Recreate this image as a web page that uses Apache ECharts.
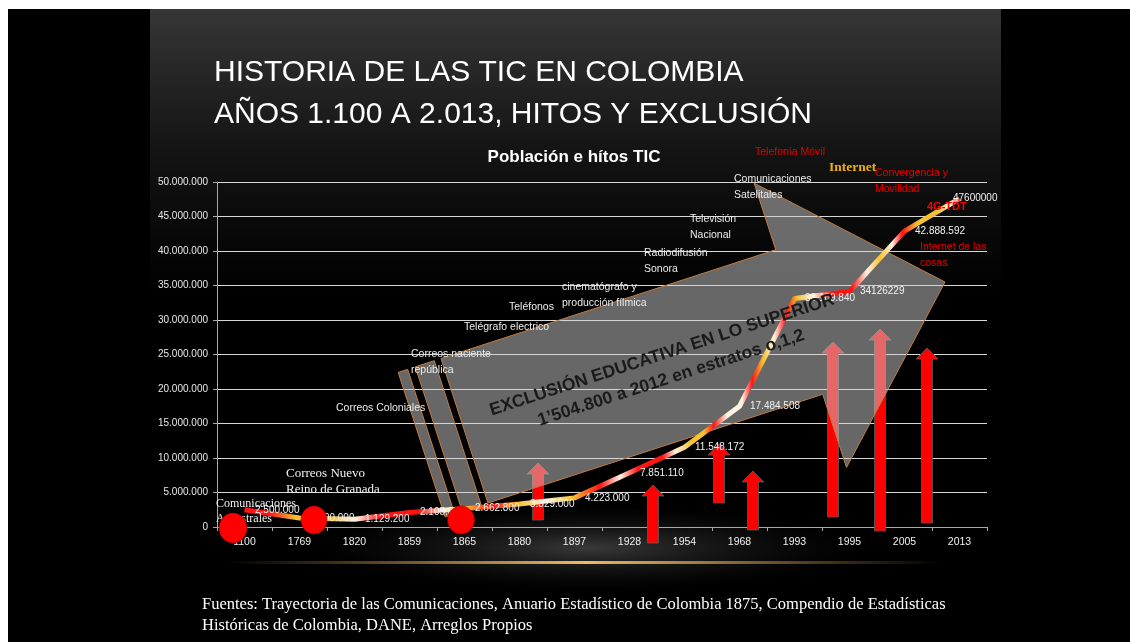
<!DOCTYPE html>
<html>
<head>
<meta charset="utf-8">
<script src="https://cdn.jsdelivr.net/npm/echarts@6/dist/echarts.min.js"></script>
<style>
html,body{margin:0;padding:0;background:#ffffff;}
#chart{width:1130px;height:642px;}
</style>
</head>
<body>
<div id="chart"></div>
<script>
// ---------------- DATA ----------------
const years = ['1100','1769','1820','1859','1865','1880','1897','1928','1954','1968','1993','1995','2005','2013'];
const population = [2500000,1300000,1129200,2105000,2662800,3329000,4223000,7851110,11548172,17484508,33109840,34126229,42888592,47600000];
const populationLabels = ['2.500.000','1.300.000','1.129.200','2.105.000','2.662.800','3.329.000','4.223.000','7.851.110','11.548.172','17.484.508','33.109.840','34126229','42.888.592','47600000'];
const yMin = 0, yMax = 50000000, yStep = 5000000;

const titleLines = ['HISTORIA DE LAS TIC EN COLOMBIA','AÑOS 1.100 A 2.013, HITOS Y EXCLUSIÓN'];
const chartTitle = 'Población e hítos TIC';
const exclusionText = ['EXCLUSIÓN EDUCATIVA EN LO SUPERIOR','1\u2019504.800 a 2012 en estratos o,1,2'];
const sourceText = ['Fuentes: Trayectoria de las Comunicaciones, Anuario Estadístico de Colombia 1875, Compendio de Estadísticas','Históricas de Colombia, DANE, Arreglos Propios'];

// milestone labels (hitos)
const milestonesWhite = ['Correos Coloniales','Correos naciente\nrepública','Telégrafo electrico','Teléfonos','cinematógrafo y\nproducción fílmica','Radiodifusión\nSonora','Televisión\nNacional','Comunicaciones\nSatelitales'];
const milestonesRed = ['Telefonía Móvil','Convergencia y\nMovilidad','Internet de las\ncosas'];
const milestonesSerif = ['Comunicaciones\nAncestrales','Correos Nuevo\nReino de Granada'];
const milestoneInternet = 'Internet';
const milestone4G = '4G-TDT';

// ---------------- LAYOUT (positions / styles) ----------------
const posWhite = [[336,408],[411,354],[464,327],[509,307],[562,287],[644,253],[690,219],[734,179]];
const posRed = [[755,152],[875,173],[920,247]];
const posSerif = [[216,504,12,15],[286,474,13,16]];
const redArrowsLayout = [[538,463,520],[653,485,543],[719,444,503],[753,471,530],[833,342,517],[880,329,531],[927,348,523]];

function fmt(v){ return String(v).replace(/\B(?=(\d{3})+(?!\d))/g,'.'); }

const SANS = '"Liberation Sans", Arial, sans-serif';
const SERIF = '"Liberation Serif", "Times New Roman", serif';

// line gradient stops (pixel x -> colour)
const R='#ff1414', Y='#f6c232', W='#fff3e2';
const stopPx = [[244,R],[272,R],[298,Y],[335,Y],[358,W],[382,R],[420,R],[445,W],[466,Y],[494,R],[520,Y],[546,W],[572,Y],[600,R],[620,W],[638,R],[662,R],[675,W],[690,Y],[703,Y],[713,R],[726,W],[741,W],[751,R],[762,Y],[773,W],[785,R],[796,Y],[812,W],[830,R],[850,R],[865,W],[878,Y],[890,W],[900,R],[915,Y],[935,Y],[948,W],[960,R]];
const x0=244.5, x1=959.5;
const colorStops = stopPx.map(s=>({offset:Math.min(1,Math.max(0,(s[0]-x0)/(x1-x0))), color:s[1]}));

// grey striped arrow geometry (local frame: tip, rotated 18deg)
const ang = 18*Math.PI/180;
const T=[945,282], dv=[-Math.cos(ang),Math.sin(ang)], nv=[Math.sin(ang),Math.cos(ang)];
function P(a,b){ return [T[0]+a*dv[0]+b*nv[0], T[1]+a*dv[1]+b*nv[1]]; }
const arrowMain = [P(0,0),P(151,-153),P(151,-83),P(503,-83),P(503,69),P(151,69),P(151,146)];
const stripe2 = [P(510,-83),P(530,-83),P(530,69),P(510,69)];
const stripe1 = [P(538,-83),P(548,-83),P(548,69),P(538,69)];
const greyFill = 'rgba(205,205,205,0.5)', greyStroke = '#c47a3c';

function redArrow(cx,tip,bottom){
  const sw=5.5, hw=11, hl=11;
  return {type:'polygon', z:1, shape:{points:[[cx-sw,bottom],[cx-sw,tip+hl],[cx-hw,tip+hl],[cx,tip],[cx+hw,tip+hl],[cx+sw,tip+hl],[cx+sw,bottom]]},
    style:{fill:'#ff0000', stroke:'#5a5a5a', lineWidth:0.8}};
}
function txt(x,y,text,font,fill,extra){
  return {type:'text', x:x, y:y, z:4, style:Object.assign({text:text, font:font, fill:fill, textAlign:'left', align:'left', textVerticalAlign:'middle', verticalAlign:'middle'}, extra||{})};
}

const graphics = [];
// backgrounds
graphics.push({type:'rect', z:-10, shape:{x:8,y:9,width:1122,height:633}, style:{fill:'#000'}});
graphics.push({type:'rect', z:-9, shape:{x:150,y:9,width:851,height:633}, style:{fill:{type:'linear',x:0,y:0,x2:0,y2:1,colorStops:[{offset:0,color:'#363636'},{offset:0.22,color:'#141414'},{offset:0.45,color:'#000'},{offset:1,color:'#000'}]}}});
graphics.push({type:'circle', z:-8, x:590, y:548, scaleX:6.5, scaleY:1, shape:{cx:0,cy:0,r:42}, style:{fill:{type:'radial',x:0.5,y:0.5,r:0.5,colorStops:[{offset:0,color:'rgba(115,115,115,0.5)'},{offset:0.6,color:'rgba(70,70,70,0.2)'},{offset:1,color:'rgba(40,40,40,0)'}]}}});
graphics.push({type:'rect', z:-7, shape:{x:225,y:561,width:720,height:3}, style:{fill:{type:'linear',x:0,y:0,x2:1,y2:0,colorStops:[{offset:0,color:'rgba(200,140,60,0)'},{offset:0.5,color:'rgba(240,185,100,1)'},{offset:1,color:'rgba(200,140,60,0)'}]}}});
// red arrows
redArrowsLayout.forEach(a=>graphics.push(redArrow(a[0],a[1],a[2])));
// grey striped arrow
[arrowMain,stripe2,stripe1].forEach(pts=>graphics.push({type:'polygon', z:1.5, shape:{points:pts}, style:{fill:greyFill, stroke:greyStroke, lineWidth:1}}));
// exclusion text
graphics.push({type:'text', x:662, y:355, rotation:ang, z:4, style:{text:exclusionText[0], font:'bold 17.5px '+SANS, fill:'#1a1a1a', textAlign:'center', align:'center', textVerticalAlign:'middle', verticalAlign:'middle'}});
graphics.push({type:'text', x:671, y:378, rotation:ang, z:4, style:{text:exclusionText[1], font:'bold 17.5px '+SANS, fill:'#1a1a1a', textAlign:'center', align:'center', textVerticalAlign:'middle', verticalAlign:'middle'}});
// titles
graphics.push(txt(214,73,titleLines[0],'30px '+SANS,'#ffffff'));
graphics.push(txt(214,115,titleLines[1],'30px '+SANS,'#ffffff'));
graphics.push(txt(574,157,chartTitle,'bold 17px '+SANS,'#ffffff',{textAlign:'center',align:'center'}));
// milestones
milestonesWhite.forEach((t,i)=>graphics.push(txt(posWhite[i][0],posWhite[i][1]-8,t,'10.5px '+SANS,'#ececec',{textVerticalAlign:'top',verticalAlign:'top',lineHeight:16})));
milestonesRed.forEach((t,i)=>graphics.push(txt(posRed[i][0],posRed[i][1]-8,t,'10.5px '+SANS,'#e60000',{textVerticalAlign:'top',verticalAlign:'top',lineHeight:16})));
milestonesSerif.forEach((t,i)=>graphics.push(txt(posSerif[i][0],posSerif[i][1]-posSerif[i][3]/2,t,posSerif[i][2]+'px '+SERIF,'#f2f2f2',{textVerticalAlign:'top',verticalAlign:'top',lineHeight:posSerif[i][3]})));
graphics.push(txt(829,168,milestoneInternet,'bold 13.5px '+SERIF,'#f2b000'));
graphics.push(txt(927,207,milestone4G,'bold 11px '+SANS,'#ff0000'));
// circles (hitos markers)
[[233,528,14,15],[314,520,13,14],[461,520,13.5,14]].forEach(c=>graphics.push({type:'ellipse', z:10, shape:{cx:c[0],cy:c[1],rx:c[2],ry:c[3]}, style:{fill:'#ff0000', stroke:'rgba(150,0,0,0.6)', lineWidth:1}}));
// footnote
graphics.push(txt(202,605,sourceText[0],'16.5px '+SERIF,'#ffffff'));
graphics.push(txt(202,626,sourceText[1],'16.5px '+SERIF,'#ffffff'));

const chart = echarts.init(document.getElementById('chart'), null, {renderer:'canvas'});
chart.setOption({
  backgroundColor:'transparent',
  animation:false,
  grid:{left:217, right:143, top:182, bottom:115, containLabel:false},
  xAxis:{type:'category', data:years, boundaryGap:true,
    axisLine:{show:true, lineStyle:{color:'#a8a8a8', width:1}},
    axisTick:{show:true, length:4, lineStyle:{color:'#a8a8a8'}},
    axisLabel:{color:'#f0f0f0', fontSize:10.5, fontFamily:'"Liberation Sans Narrow", "Liberation Sans", Arial', margin:10},
    splitLine:{show:false}},
  yAxis:{type:'value', min:yMin, max:yMax, interval:yStep,
    axisLine:{show:true, lineStyle:{color:'#a8a8a8', width:1}},
    axisTick:{show:true, length:4, lineStyle:{color:'#a8a8a8'}},
    axisLabel:{color:'#e8e8e8', fontSize:10, fontFamily:SANS, margin:9, formatter:fmt},
    splitLine:{show:true, lineStyle:{color:'#d8d8d8', width:1}}},
  graphic:graphics,
  series:[{
    type:'line', z:3, symbol:'circle', symbolSize:1, showSymbol:true, smooth:false,
    itemStyle:{color:'rgba(0,0,0,0)', borderWidth:0},
    data:population.map((v,i)=>{
      const item={value:v};
      if(i===population.length-1) item.label={show:true, position:[-6,0], align:'left', verticalAlign:'middle'};
      return item;
    }),
    lineStyle:{width:5, color:{type:'linear',x:0,y:0,x2:1,y2:0,colorStops:colorStops}},
    label:{show:true, position:'right', distance:10, color:'#f2f2f2', fontSize:10, fontFamily:SANS,
      formatter:p=>populationLabels[p.dataIndex]},
    labelLayout:{hideOverlap:false}
  }]
});
</script>
</body>
</html>
